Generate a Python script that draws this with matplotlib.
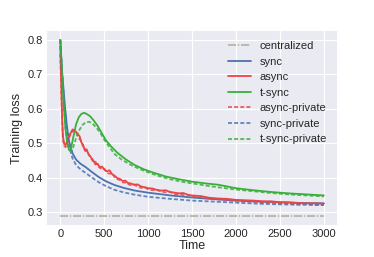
import numpy as np
import matplotlib
matplotlib.use("Agg")
import matplotlib.pyplot as plt

# centralized baseline
cent_t = [0, 3000]
cent_y = [0.288, 0.288]

# sync (solid / private)
sync_t = [0, 20, 50, 75, 100, 140, 180, 230, 290, 360, 440, 520, 620, 720, 850,
          1000, 1250, 1500, 1750, 2000, 2250, 2500, 2750, 3000]
sync_y = [0.80, 0.71, 0.615, 0.55, 0.505, 0.47, 0.452, 0.44, 0.430, 0.416, 0.401,
          0.389, 0.378, 0.370, 0.362, 0.356, 0.348, 0.342, 0.337, 0.333, 0.330,
          0.328, 0.326, 0.325]
sync_priv_y = [0.80, 0.70, 0.60, 0.535, 0.49, 0.455, 0.436, 0.424, 0.413, 0.400,
               0.386, 0.375, 0.364, 0.357, 0.350, 0.344, 0.338, 0.333, 0.330,
               0.327, 0.324, 0.322, 0.321, 0.320]

# async (solid / private)
async_t = [0, 10, 20, 30, 45, 60, 80, 100, 120, 140, 160, 180, 200, 220, 240, 260,
           280, 300, 320, 340, 360, 380, 400, 425, 450, 475, 500, 530, 560, 590,
           620, 650, 680, 710, 740, 770, 800, 840, 880, 920, 960, 1000, 1050, 1100,
           1150, 1200, 1250, 1300, 1350, 1400, 1450, 1500, 1600, 1700, 1800, 1900,
           2000, 2100, 2200, 2300, 2400, 2500, 2600, 2700, 2800, 2900, 3000]
async_y = [0.78, 0.68, 0.58, 0.52, 0.497, 0.494, 0.508, 0.522, 0.530, 0.540, 0.536,
           0.533, 0.526, 0.520, 0.502, 0.495, 0.478, 0.482, 0.468, 0.462, 0.455,
           0.448, 0.438, 0.440, 0.430, 0.432, 0.423, 0.418, 0.421, 0.410, 0.405,
           0.398, 0.396, 0.390, 0.391, 0.384, 0.383, 0.379, 0.380, 0.374, 0.372,
           0.369, 0.368, 0.364, 0.362, 0.363, 0.358, 0.356, 0.354, 0.355, 0.350,
           0.348, 0.346, 0.341, 0.339, 0.338, 0.335, 0.334, 0.333, 0.331, 0.331,
           0.328, 0.328, 0.326, 0.325, 0.325, 0.324]
async_priv_y = [0.76, 0.66, 0.57, 0.51, 0.492, 0.488, 0.500, 0.515, 0.528, 0.534,
                0.537, 0.530, 0.520, 0.512, 0.505, 0.488, 0.485, 0.472, 0.470,
                0.458, 0.452, 0.444, 0.446, 0.435, 0.428, 0.425, 0.426, 0.414,
                0.411, 0.412, 0.401, 0.395, 0.393, 0.386, 0.385, 0.381, 0.378,
                0.380, 0.373, 0.370, 0.371, 0.366, 0.363, 0.364, 0.359, 0.357,
                0.358, 0.352, 0.351, 0.349, 0.350, 0.345, 0.343, 0.339, 0.337,
                0.334, 0.333, 0.330, 0.330, 0.327, 0.327, 0.325, 0.324, 0.322,
                0.323, 0.321, 0.320]

# t-sync (solid / private)
tsync_t = [0, 20, 40, 60, 80, 100, 120, 150, 180, 210, 240, 270, 300, 340, 380, 420,
           470, 520, 580, 650, 750, 850, 950, 1050, 1200, 1350, 1500, 1650, 1800,
           2000, 2200, 2400, 2600, 2800, 3000]
tsync_y = [0.80, 0.70, 0.61, 0.54, 0.50, 0.48, 0.482, 0.52, 0.555, 0.575, 0.585,
           0.588, 0.585, 0.578, 0.566, 0.552, 0.530, 0.508, 0.49, 0.472, 0.452,
           0.436, 0.424, 0.415, 0.403, 0.395, 0.388, 0.383, 0.379, 0.369, 0.363,
           0.358, 0.354, 0.351, 0.348]
tsync_priv_t = [0, 20, 40, 60, 80, 100, 120, 150, 180, 210, 250, 290, 330, 370, 410,
                450, 500, 560, 620, 700, 800, 900, 1000, 1100, 1250, 1400, 1550,
                1700, 1850, 2000, 2200, 2400, 2600, 2800, 3000]
tsync_priv_y = [0.80, 0.70, 0.61, 0.54, 0.50, 0.482, 0.476, 0.49, 0.515, 0.535,
                0.552, 0.561, 0.562, 0.556, 0.545, 0.532, 0.51, 0.488, 0.468,
                0.452, 0.437, 0.425, 0.415, 0.406, 0.395, 0.387, 0.381, 0.375,
                0.370, 0.365, 0.360, 0.355, 0.351, 0.348, 0.345]

plt.style.use("seaborn-v0_8-darkgrid")
plt.rcParams["font.family"] = ["Liberation Sans", "DejaVu Sans"]

fig = plt.figure(figsize=(3.74, 2.57), dpi=100)
ax = fig.add_axes([0.126, 0.125, 0.775, 0.754])

blue = "#4c72b0"
red = "#e84646"
green = "#38b038"
dash = (0, (2.2, 1.2))
lw = 1.3

ax.plot(cent_t, cent_y, color="#b8b2a8", lw=lw, linestyle=(0, (4.5, 1, 0.7, 1)),
        label="centralized")
ax.plot(sync_t, sync_y, color=blue, lw=lw, label="sync")
ax.plot(async_t, async_y, color=red, lw=lw, label="async")
ax.plot(tsync_t, tsync_y, color=green, lw=lw, label="t-sync")
ax.plot(async_t, async_priv_y, color=red, lw=lw, ls=dash, alpha=0.85,
        label="async-private")
ax.plot(sync_t, sync_priv_y, color=blue, lw=lw, ls=dash, alpha=0.85,
        label="sync-private")
ax.plot(tsync_priv_t, tsync_priv_y, color=green, lw=lw, ls=dash, alpha=0.85,
        label="t-sync-private")

ax.set_xticks([0, 500, 1000, 1500, 2000, 2500, 3000])
ax.set_yticks([0.3, 0.4, 0.5, 0.6, 0.7, 0.8])
ax.tick_params(labelsize=8, colors="#262626", pad=3)
ax.set_xlabel("Time", fontsize=9, color="#262626", labelpad=1)
ax.set_ylabel("Training loss", fontsize=9, color="#262626", labelpad=3)
ax.legend(loc="upper right", fontsize=8, frameon=False, labelspacing=0.5)

fig.savefig("out.png", dpi=100)
